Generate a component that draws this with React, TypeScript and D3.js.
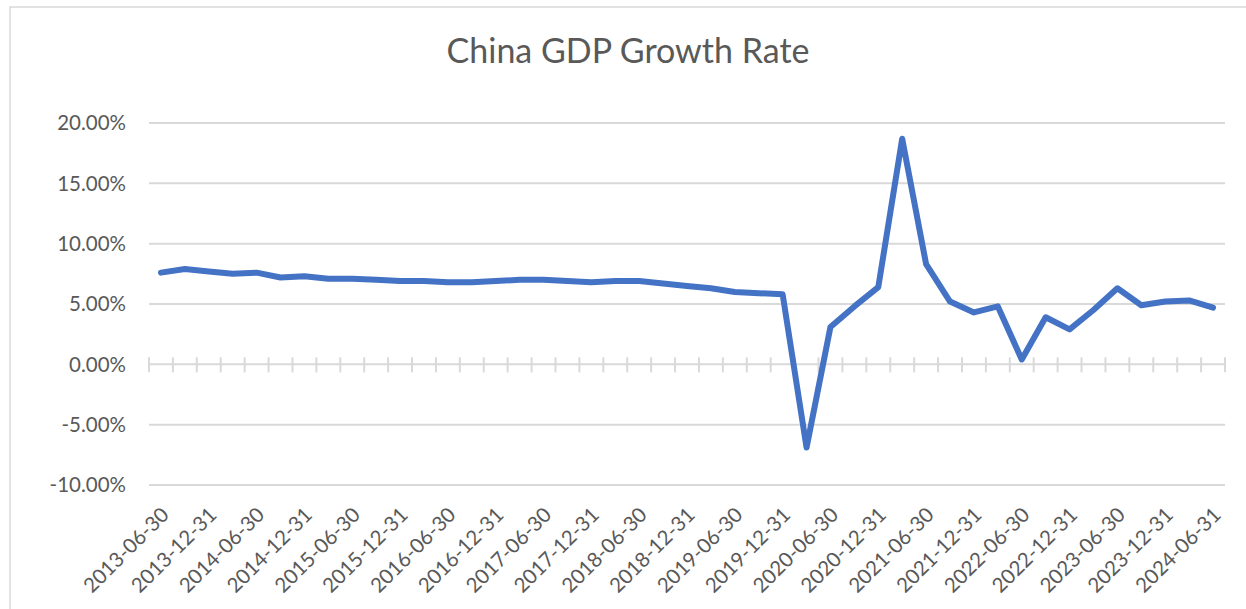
import React from "react";
import * as d3 from "d3";

const categories: string[] = [
  "2013-06-30", "2013-09-30", "2013-12-31", "2014-03-31", "2014-06-30", "2014-09-30",
  "2014-12-31", "2015-03-31", "2015-06-30", "2015-09-30", "2015-12-31", "2016-03-31",
  "2016-06-30", "2016-09-30", "2016-12-31", "2017-03-31", "2017-06-30", "2017-09-30",
  "2017-12-31", "2018-03-31", "2018-06-30", "2018-09-30", "2018-12-31", "2019-03-31",
  "2019-06-30", "2019-09-30", "2019-12-31", "2020-03-31", "2020-06-30", "2020-09-30",
  "2020-12-31", "2021-03-31", "2021-06-30", "2021-09-30", "2021-12-31", "2022-03-31",
  "2022-06-30", "2022-09-30", "2022-12-31", "2023-03-31", "2023-06-30", "2023-09-30",
  "2023-12-31", "2024-03-31", "2024-06-31",
];

const growth: number[] = [
  7.6, 7.9, 7.7, 7.5, 7.6, 7.2, 7.3, 7.1, 7.1, 7.0, 6.9, 6.9, 6.8, 6.8, 6.9, 7.0,
  7.0, 6.9, 6.8, 6.9, 6.9, 6.7, 6.5, 6.3, 6.0, 5.9, 5.8, -6.9, 3.1, 4.8, 6.4, 18.7,
  8.3, 5.2, 4.3, 4.8, 0.4, 3.9, 2.9, 4.5, 6.3, 4.9, 5.2, 5.3, 4.7,
];

const yTicks: number[] = [-10, -5, 0, 5, 10, 15, 20];

const title = "China GDP Growth Rate";

const W = 1246;
const H = 609;
const FONT = "Lato, 'Open Sans', sans-serif";
const TEXT = "#595959";
const GRID = "#d9d9d9";

export default function App() {
  const x = d3.scaleBand<string>().domain(categories).range([149, 1225]).paddingInner(0).paddingOuter(0);
  const y = d3.scaleLinear().domain([-10, 20]).range([485, 123]);
  const bw = x.bandwidth();
  const cx = (c: string) => (x(c) as number) + bw / 2;

  const line = d3
    .line<number>()
    .x((_, i) => cx(categories[i]))
    .y((d) => y(d));

  const boundaries = categories.map((c) => x(c) as number).concat([(x(categories[categories.length - 1]) as number) + bw]);

  return (
    <svg width={W} height={H} style={{ position: "absolute", left: 0, top: 0, background: "#fff" }}>
      <rect x={0} y={0} width={W} height={H} fill="#fff" />
      <rect x={10} y={7} width={W + 20} height={H + 20} fill="#fff" stroke={GRID} strokeWidth={1.5} />
      <text x={628} y={63} textAnchor="middle" fontFamily={FONT} fontSize={34} fill={TEXT}>
        {title}
      </text>
      {yTicks.map((t) => (
        <g key={t}>
          <line x1={149} x2={1225} y1={y(t)} y2={y(t)} stroke={GRID} strokeWidth={2} />
          <text x={126} y={y(t)} dy="0.35em" textAnchor="end" fontFamily={FONT} fontSize={20.5} fill={TEXT}>
            {t.toFixed(2) + "%"}
          </text>
        </g>
      ))}
      {boundaries.map((b, i) => (
        <line key={i} x1={b} x2={b} y1={y(0) - 7} y2={y(0) + 8} stroke={GRID} strokeWidth={2} />
      ))}
      <path d={line(growth) || ""} fill="none" stroke="#4472C4" strokeWidth={6} strokeLinejoin="round" strokeLinecap="round" />
      {categories.map((c, i) =>
        i % 2 === 0 ? (
          <text
            key={c}
            transform={`translate(${cx(c) + 4},${511}) rotate(-45)`}
            dy="0.35em"
            textAnchor="end"
            fontFamily={FONT}
            fontSize={20.5}
            fill={TEXT}
          >
            {c}
          </text>
        ) : null
      )}
    </svg>
  );
}
